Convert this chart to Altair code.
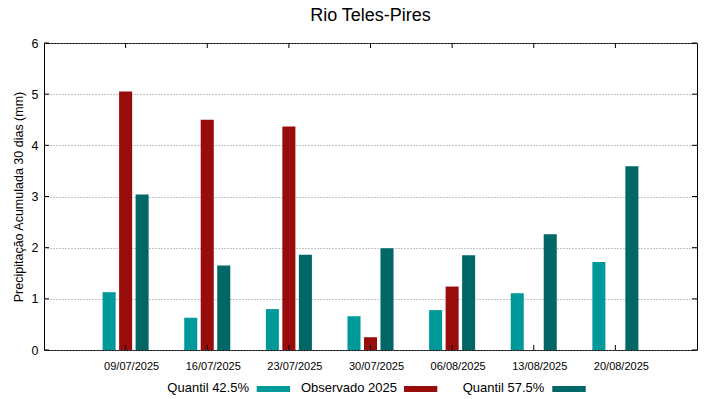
import altair as alt
import pandas as pd

# ---- data ----
dates = ["09/07/2025", "16/07/2025", "23/07/2025", "30/07/2025",
         "06/08/2025", "13/08/2025", "20/08/2025"]
series = ["Quantil 42.5%", "Observado 2025", "Quantil 57.5%"]
q425 = [1.13, 0.63, 0.80, 0.66, 0.78, 1.11, 1.72]
obs2025 = [5.05, 4.50, 4.37, 0.25, 1.24, None, None]
q575 = [3.04, 1.65, 1.86, 1.99, 1.85, 2.26, 3.59]
y_ticks = [0, 1, 2, 3, 4, 5, 6]
colors = ["#009999", "#990c0c", "#006666"]
chart_title = "Rio Teles-Pires"

rows = []
for i, d in enumerate(dates):
    for s, vals in zip(series, [q425, obs2025, q575]):
        if vals[i] is not None:
            rows.append({"Data": d, "Serie": s, "Valor": vals[i]})
df = pd.DataFrame(rows)
df_ticks = pd.DataFrame({"Valor": y_ticks})

W, H = 653, 307
ytitle = "Precipitação Acumulada 30 dias (mm)"

xscale = alt.Scale(domain=dates, paddingInner=0.436, paddingOuter=0.718)
yscale = alt.Scale(domain=[0, 6], nice=False)

bars = alt.Chart(df).mark_bar().encode(
    x=alt.X("Data:N", scale=xscale, sort=dates,
            axis=alt.Axis(title=None, labelAngle=0, labelFontSize=11,
                          labelPadding=10, labelOffset=6, ticks=False, domain=False,
                          labelColor="black")),
    xOffset=alt.XOffset("Serie:N", scale=alt.Scale(domain=series, paddingInner=0.21, paddingOuter=0)),
    y=alt.Y("Valor:Q", scale=yscale,
            axis=alt.Axis(title=ytitle, values=y_ticks, labelFontSize=12.5,
                          labelPadding=6, ticks=False, domain=False,
                          grid=True, gridDash=[1, 2], gridColor="#8a8a8a",
                          titleFontSize=12.5, titleFontWeight="normal",
                          titlePadding=6, labelColor="black", titleColor="black")),
    color=alt.Color("Serie:N", scale=alt.Scale(domain=series, range=colors), legend=None),
)

# inward tick marks (gnuplot style)
left_ticks = alt.Chart(df_ticks).mark_rule(color="black").encode(
    y=alt.Y("Valor:Q", scale=yscale, title=ytitle), x=alt.value(0), x2=alt.value(5))
right_ticks = alt.Chart(df_ticks).mark_rule(color="black").encode(
    y=alt.Y("Valor:Q", scale=yscale, title=ytitle), x=alt.value(W - 5), x2=alt.value(W))
bottom_ticks = alt.Chart(pd.DataFrame({"Data": dates})).mark_rule(color="black").encode(
    x=alt.X("Data:N", scale=xscale, sort=dates, title=None), y=alt.value(H), y2=alt.value(H - 5))
top_ticks = alt.Chart(pd.DataFrame({"Data": dates})).mark_rule(color="black").encode(
    x=alt.X("Data:N", scale=xscale, sort=dates, title=None), y=alt.value(0), y2=alt.value(5))

# chart title as a text mark
title_layer = alt.Chart(pd.DataFrame({"t": [chart_title]})).mark_text(
    align="center", baseline="alphabetic", fontSize=18, color="black").encode(
    text="t:N", x=alt.value(W / 2), y=alt.value(-22))

# custom legend: label to the left of a wide swatch
legend_text_x = [205, 353, 500.3]
legend_sw_x = [(212.7, 246), (360, 393.3), (508.3, 541.7)]
legend_layers = []
for s, c, tx, (sx1, sx2) in zip(series, colors, legend_text_x, legend_sw_x):
    one = pd.DataFrame({"t": [s]})
    legend_layers.append(
        alt.Chart(one).mark_text(align="right", baseline="middle", fontSize=13, color="black").encode(
            text="t:N", x=alt.value(tx), y=alt.value(344.5)))
    legend_layers.append(
        alt.Chart(one).mark_rect(color=c).encode(
            x=alt.value(sx1), x2=alt.value(sx2), y=alt.value(343), y2=alt.value(349)))

chart = alt.layer(bars, left_ticks, right_ticks, bottom_ticks, top_ticks, title_layer,
                  *legend_layers).properties(
    width=W, height=H,
    autosize=alt.AutoSizeParams(type="none"),
    padding={"left": 36, "top": 35, "right": 14, "bottom": 49},
).configure(font="Liberation Sans", background="white").configure_view(
    stroke="black", strokeWidth=1
)

chart.save("out.html", embed_options={"renderer": "svg", "actions": False})
